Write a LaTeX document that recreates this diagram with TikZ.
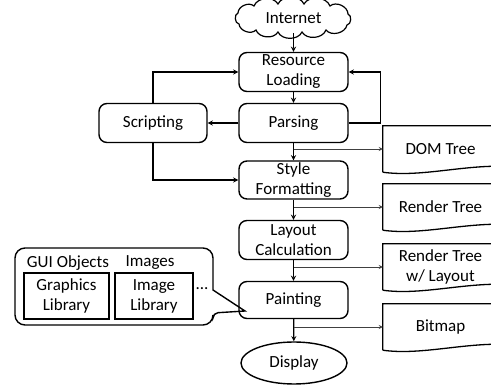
\documentclass[tikz,border=0pt]{standalone}
\usepackage{fontspec}
\setmainfont{Carlito}
\usetikzlibrary{shapes.geometric,arrows}

\newcommand{\docline}[1]{%
  \draw[line width=1.3pt] (#1.south west) -- (#1.north west) -- ([xshift=20pt]#1.north east)
    -- ([xshift=20pt,yshift=6pt]#1.south east) -- ([yshift=6pt]#1.south east)
    .. controls ([xshift=-40pt,yshift=6pt]#1.south east) and ([xshift=35pt,yshift=-5pt]#1.south west) .. (#1.south west);}

\begin{document}
\begin{tikzpicture}[x=1pt,y=-1pt,>=stealth,
    every node/.style={font=\fontsize{17}{20}\selectfont},
    stage/.style={draw,rounded corners=8pt,line width=1.4pt,minimum width=109pt,minimum height=39pt,align=center,inner sep=0pt},
    lib/.style={draw,line width=1.3pt,minimum height=46pt,align=center,inner sep=0pt},
    doc/.style={minimum width=115pt,minimum height=46pt,align=center,inner sep=1pt},
    flow/.style={->,line width=1.3pt},
    branch/.style={->,line width=0.8pt,black!75}]
        \useasboundingbox (0,0) rectangle (491,385);
        \clip (0,0) rectangle (491,385);

        \node[minimum width=116pt,minimum height=30pt,inner sep=0pt] (inet) at (293.5,18) {Internet};
        \draw[line width=1.2pt] (238,13) to[bend left=65] (254,6) to[bend left=65] (278,4)
            to[bend left=65] (304,4) to[bend left=65] (330,6) to[bend left=65] (348,14)
            to[bend left=80] (347,25) to[bend left=65] (326,30) to[bend left=65] (302,32)
            to[bend left=65] (278,32) to[bend left=65] (256,30) to[bend left=65] (239,24)
            to[bend left=80] cycle;
        \node[stage] (load) at (293.5,72) {Resource\\Loading};
        \node[stage] (parse) at (293.5,123) {Parsing};
        \node[stage,minimum width=108pt] (script) at (153,123) {Scripting};
        \node[stage,minimum height=38pt] (style) at (293.5,180) {Style\\Formatting};
        \node[stage] (layout) at (293.5,240) {Layout\\Calculation};
        \node[stage,minimum height=37pt] (paint) at (293.5,300) {Painting};
        \node[ellipse,draw,line width=1.4pt,minimum width=106pt,minimum height=42pt] (disp) at (294,363) {Display};

        \node[doc] (dom) at (440.5,149) {DOM Tree};
        \node[doc] (rtree) at (440.5,207) {Render Tree};
        \node[doc] (rlay) at (440.5,267) {Render Tree\\w/ Layout};
        \node[doc] (bmp) at (440.5,327) {Bitmap};
        \docline{dom}
        \docline{rtree}
        \docline{rlay}
        \docline{bmp}

        \draw[line width=1.4pt,rounded corners=10pt] (213,290) -- (213,248) -- (15,248) -- (15,325)
            -- (213,325) [rounded corners=5pt] -- (213,313) [sharp corners] -- (245,311) -- cycle;
        \node (gui) at (68,263) {GUI Objects};
        \node (img) at (150,263) {Images};
        \node[lib,minimum width=85pt] (glib) at (66.5,296) {Graphics\\Library};
        \node[lib,minimum width=78pt] (ilib) at (154,296) {Image\\Library};
        \node (dots) at (202,289) {...};

        \draw[flow] (inet) -- (load);
        \draw[flow] (load) -- (parse);
        \draw[flow] (parse) -- (script);
        \draw[flow] (script) |- (load);
        \draw[flow] (parse.east) -- ++(32,0) |- (load.east);
        \draw[flow] (script) |- (style);
        \draw[flow] (parse) -- (style);
        \draw[flow] (style) -- (layout);
        \draw[flow] (layout) -- (paint);
        \draw[flow] (paint) -- (disp);

        \draw[branch] (parse.south |- dom) -- (dom.west);
        \draw[branch] (style.south |- rtree) -- (rtree.west);
        \draw[branch] (layout.south |- rlay) -- (rlay.west);
        \draw[branch] (paint.south |- bmp) -- (bmp.west);
\end{tikzpicture}
\end{document}
